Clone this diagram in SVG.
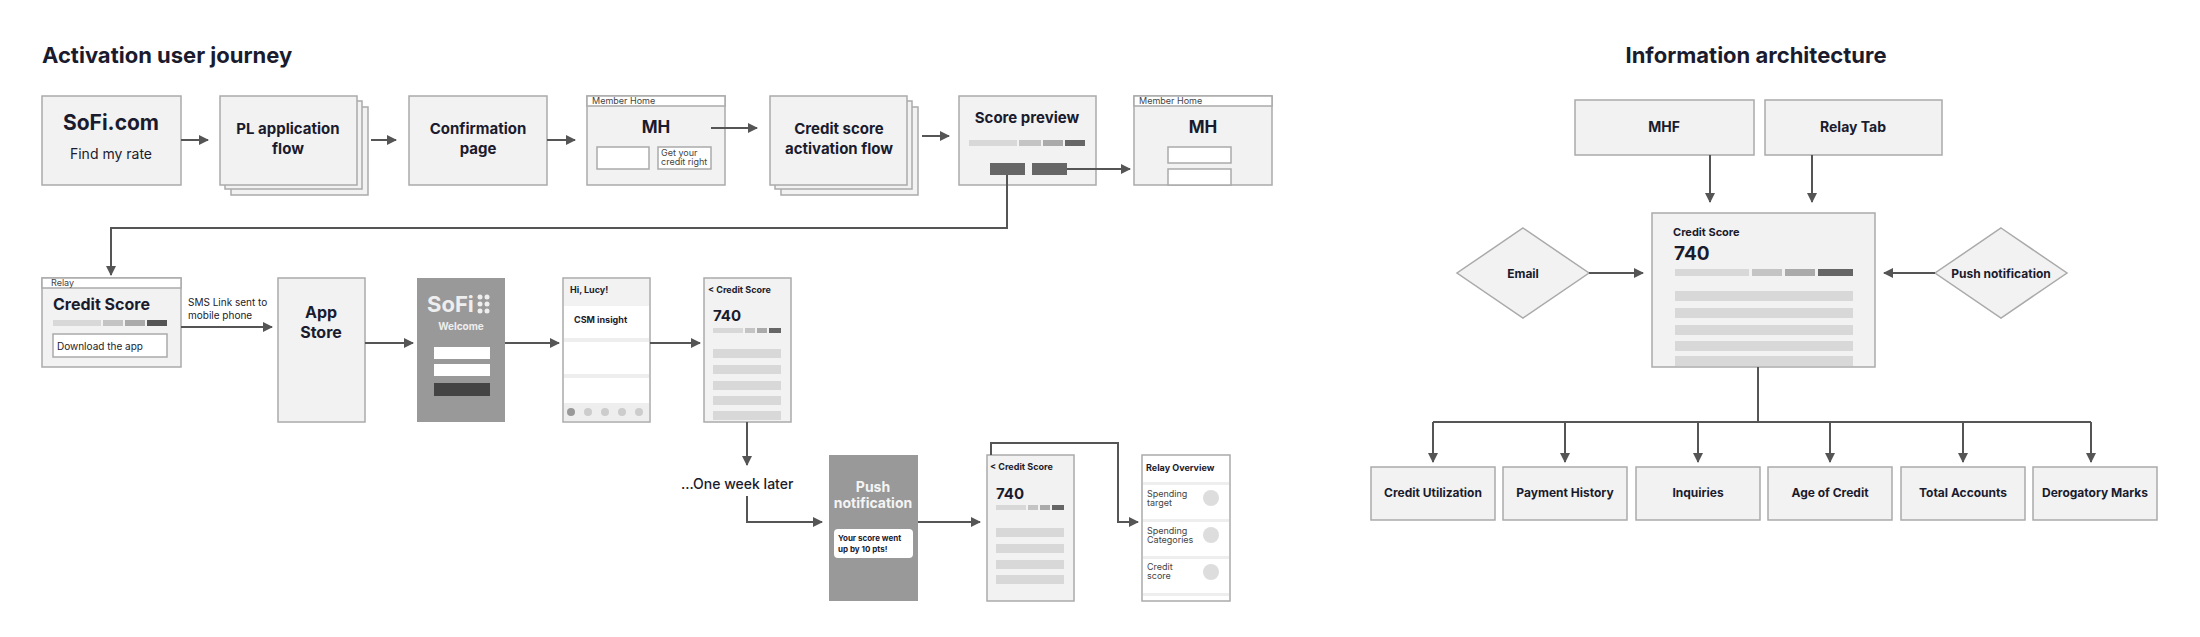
<svg xmlns="http://www.w3.org/2000/svg" width="2200" height="637" viewBox="0 0 2200 637">
<style>
text{font-family:Inter,"Noto Sans",sans-serif;fill:#1b1b2e}
.b{fill:#f2f2f2;stroke:#aaa;stroke-width:1.5}
.w{fill:#fff;stroke:#aaa;stroke-width:1.5}
.t{font-weight:700;text-anchor:middle}
.s{font-size:9px;fill:#444}
.c{fill:none;stroke:#555;stroke-width:2}
.bar{fill:#d8d8d8}
</style>
<defs><marker id="a" markerWidth="10" markerHeight="10" refX="9" refY="5" orient="auto" markerUnits="userSpaceOnUse"><path d="M0,0L10,5L0,10z" fill="#555"/></marker></defs>
<rect width="2200" height="637" fill="#fff"/>
<text x="42" y="63" font-size="22" font-weight="700">Activation user journey</text>
<text x="1756" y="63" font-size="22" font-weight="700" text-anchor="middle">Information architecture</text>

<g id="sofi"><rect class="b" x="42" y="96" width="139" height="89"/><text class="t" x="111" y="130" font-size="21">SoFi.com</text><text x="111" y="159" font-size="14" text-anchor="middle">Find my rate</text></g>
<g id="pl"><rect class="b" x="231" y="107" width="137" height="88"/><rect class="b" x="225" y="101" width="137" height="88"/><rect class="b" x="220" y="96" width="137" height="89"/><text class="t" x="288" y="134" font-size="15">PL application</text><text class="t" x="288" y="154" font-size="15">flow</text></g>
<g id="confirm"><rect class="b" x="409" y="96" width="138" height="89"/><text class="t" x="478" y="134" font-size="15">Confirmation</text><text class="t" x="478" y="154" font-size="15">page</text></g>
<g id="mh1"><rect class="b" x="587" y="96" width="138" height="89"/><rect class="w" x="587" y="96" width="138" height="10"/><text class="s" x="592" y="104" font-size="7">Member Home</text><text class="t" x="656" y="133" font-size="17">MH</text><rect class="w" x="597" y="147" width="52" height="22"/><rect class="w" x="658" y="147" width="53" height="22"/><text class="s" x="661" y="156" font-size="7">Get your</text><text class="s" x="661" y="165" font-size="7">credit right</text></g>
<g id="csaf"><rect class="b" x="781" y="107" width="137" height="88"/><rect class="b" x="775" y="101" width="137" height="88"/><rect class="b" x="770" y="96" width="137" height="89"/><text class="t" x="839" y="134" font-size="15">Credit score</text><text class="t" x="839" y="154" font-size="15">activation flow</text></g>
<g id="preview"><rect class="b" x="959" y="96" width="137" height="89"/><text class="t" x="1027" y="123" font-size="15">Score preview</text><rect class="bar" x="969" y="140" width="48" height="6"/><rect x="1019" y="140" width="22" height="6" fill="#c4c4c4"/><rect x="1043" y="140" width="20" height="6" fill="#aaa"/><rect x="1065" y="140" width="20" height="6" fill="#666"/><rect x="990" y="163" width="35" height="12" fill="#666"/><rect x="1032" y="163" width="35" height="12" fill="#666"/></g>
<g id="mh2"><rect class="b" x="1134" y="96" width="138" height="89"/><rect class="w" x="1134" y="96" width="138" height="10"/><text class="s" x="1139" y="104" font-size="7">Member Home</text><text class="t" x="1203" y="133" font-size="17">MH</text><rect class="w" x="1168" y="147" width="63" height="16"/><rect class="w" x="1168" y="169" width="63" height="16"/></g>

<g id="relay"><rect class="b" x="42" y="278" width="139" height="89"/><rect class="w" x="42" y="278" width="139" height="10"/><text class="s" x="51" y="286" font-size="7">Relay</text><text x="53" y="310" font-size="16" font-weight="700">Credit Score</text><rect class="bar" x="53" y="320" width="48" height="6"/><rect x="103" y="320" width="20" height="6" fill="#c4c4c4"/><rect x="125" y="320" width="20" height="6" fill="#aaa"/><rect x="147" y="320" width="20" height="6" fill="#555"/><rect class="w" x="53" y="334" width="114" height="23"/><text x="57" y="350" font-size="10">Download the app</text></g>
<text x="188" y="306" font-size="10">SMS Link sent to</text><text x="188" y="319" font-size="10">mobile phone</text>
<g id="appstore"><rect class="b" x="278" y="278" width="87" height="144"/><text class="t" x="321" y="318" font-size="16">App</text><text class="t" x="321" y="338" font-size="16">Store</text></g>
<g id="welcome"><rect x="417" y="278" width="88" height="144" fill="#999"/><text x="427" y="312" font-size="22" font-weight="700" style="fill:#eee">SoFi</text><g fill="#eee"><circle cx="480" cy="297" r="2.5"/><circle cx="487" cy="297" r="2.5"/><circle cx="480" cy="304" r="2.5"/><circle cx="487" cy="304" r="2.5"/><circle cx="480" cy="311" r="2.5"/><circle cx="487" cy="311" r="2.5"/></g><text x="461" y="330" font-size="10" font-weight="700" text-anchor="middle" style="fill:#eee">Welcome</text><rect x="434" y="347" width="56" height="12" fill="#fff"/><rect x="434" y="364" width="56" height="12" fill="#fff"/><rect x="434" y="383" width="56" height="13" fill="#444"/></g>
<g id="lucy"><rect class="w" x="563" y="278" width="87" height="144"/><rect x="564" y="279" width="85" height="27" fill="#f2f2f2"/><text x="570" y="293" font-size="9" font-weight="700">Hi, Lucy!</text><text x="574" y="323" font-size="9" font-weight="700">CSM insight</text><rect x="564" y="338" width="85" height="4" fill="#eee"/><rect x="564" y="374" width="85" height="4" fill="#eee"/><rect x="564" y="403" width="85" height="18" fill="#eee"/><g fill="#ccc"><circle cx="571" cy="412" r="4" fill="#999"/><circle cx="588" cy="412" r="4"/><circle cx="605" cy="412" r="4"/><circle cx="622" cy="412" r="4"/><circle cx="639" cy="412" r="4"/></g></g>
<g id="cs1"><rect class="b" x="704" y="278" width="87" height="144"/><text x="708" y="293" font-size="9" font-weight="700">&lt;  Credit Score</text><text x="713" y="321" font-size="15" font-weight="700">740</text><rect class="bar" x="713" y="328" width="30" height="5"/><rect x="745" y="328" width="10" height="5" fill="#c4c4c4"/><rect x="757" y="328" width="10" height="5" fill="#aaa"/><rect x="769" y="328" width="12" height="5" fill="#666"/><rect class="bar" x="713" y="349" width="68" height="9"/><rect class="bar" x="713" y="365" width="68" height="9"/><rect class="bar" x="713" y="381" width="68" height="9"/><rect class="bar" x="713" y="396" width="68" height="9"/><rect class="bar" x="713" y="411" width="68" height="9"/></g>
<text x="681" y="489" font-size="14" font-weight="500">...One week later</text>
<g id="push"><rect x="829" y="455" width="89" height="146" fill="#999"/><text class="t" x="873" y="492" font-size="14" style="fill:#f4f4f4">Push</text><text class="t" x="873" y="508" font-size="14" style="fill:#f4f4f4">notification</text><rect x="834" y="529" width="79" height="29" rx="4" fill="#fff"/><text x="838" y="541" font-size="8" font-weight="700">Your score went</text><text x="838" y="552" font-size="8" font-weight="700">up by 10 pts!</text></g>
<g id="cs2"><rect class="b" x="987" y="455" width="87" height="146"/><text x="990" y="470" font-size="9" font-weight="700">&lt;  Credit Score</text><text x="996" y="499" font-size="15" font-weight="700">740</text><rect class="bar" x="996" y="505" width="30" height="5"/><rect x="1028" y="505" width="10" height="5" fill="#c4c4c4"/><rect x="1040" y="505" width="10" height="5" fill="#aaa"/><rect x="1052" y="505" width="12" height="5" fill="#666"/><rect class="bar" x="996" y="528" width="68" height="9"/><rect class="bar" x="996" y="544" width="68" height="9"/><rect class="bar" x="996" y="560" width="68" height="9"/><rect class="bar" x="996" y="575" width="68" height="9"/></g>
<g id="overview"><rect class="w" x="1142" y="455" width="88" height="146"/><text x="1146" y="471" font-size="9" font-weight="700">Relay Overview</text><rect x="1143" y="482" width="86" height="3" fill="#eee"/><rect x="1143" y="519" width="86" height="3" fill="#eee"/><rect x="1143" y="556" width="86" height="3" fill="#eee"/><rect x="1143" y="593" width="86" height="3" fill="#eee"/><text class="s" x="1147" y="497" font-size="8">Spending</text><text class="s" x="1147" y="506" font-size="8">target</text><text class="s" x="1147" y="534" font-size="8">Spending</text><text class="s" x="1147" y="543" font-size="8">Categories</text><text class="s" x="1147" y="570" font-size="8">Credit</text><text class="s" x="1147" y="579" font-size="8">score</text><circle cx="1211" cy="498" r="8" fill="#ddd"/><circle cx="1211" cy="535" r="8" fill="#ddd"/><circle cx="1211" cy="572" r="8" fill="#ddd"/></g>

<g id="mhf"><rect class="b" x="1575" y="100" width="179" height="55"/><text class="t" x="1664" y="132" font-size="14">MHF</text></g>
<g id="relaytab"><rect class="b" x="1765" y="100" width="177" height="55"/><text class="t" x="1853" y="132" font-size="14">Relay Tab</text></g>
<g id="csbig"><rect class="b" x="1652" y="213" width="223" height="154"/><text x="1673" y="236" font-size="11" font-weight="700">Credit Score</text><text x="1674" y="260" font-size="19" font-weight="700">740</text><rect class="bar" x="1675" y="269" width="74" height="7"/><rect x="1752" y="269" width="30" height="7" fill="#c4c4c4"/><rect x="1785" y="269" width="30" height="7" fill="#aaa"/><rect x="1818" y="269" width="35" height="7" fill="#666"/><rect class="bar" x="1675" y="291" width="178" height="10"/><rect class="bar" x="1675" y="308" width="178" height="10"/><rect class="bar" x="1675" y="325" width="178" height="10"/><rect class="bar" x="1675" y="341" width="178" height="10"/><rect class="bar" x="1675" y="356" width="178" height="10"/></g>
<g id="email"><path class="b" d="M1523,228L1589,273L1523,318L1457,273z"/><text class="t" x="1523" y="278" font-size="12" font-weight="600">Email</text></g>
<g id="pushdia"><path class="b" d="M2001,228L2067,273L2001,318L1935,273z"/><text class="t" x="2001" y="278" font-size="12" font-weight="600">Push notification</text></g>
<g id="k1"><rect class="b" x="1371" y="467" width="124" height="53"/><text class="t" x="1433" y="497" font-size="12" font-weight="600">Credit Utilization</text></g>
<g id="k2"><rect class="b" x="1503" y="467" width="124" height="53"/><text class="t" x="1565" y="497" font-size="12" font-weight="600">Payment History</text></g>
<g id="k3"><rect class="b" x="1636" y="467" width="124" height="53"/><text class="t" x="1698" y="497" font-size="12" font-weight="600">Inquiries</text></g>
<g id="k4"><rect class="b" x="1768" y="467" width="124" height="53"/><text class="t" x="1830" y="497" font-size="12" font-weight="600">Age of Credit</text></g>
<g id="k5"><rect class="b" x="1901" y="467" width="124" height="53"/><text class="t" x="1963" y="497" font-size="12" font-weight="600">Total Accounts</text></g>
<g id="k6"><rect class="b" x="2033" y="467" width="124" height="53"/><text class="t" x="2095" y="497" font-size="12" font-weight="600">Derogatory Marks</text></g>

<g id="connectors" class="c" marker-end="url(#a)">
<path class="c" marker-end="url(#a)" d="M181,140H208"/>
<path class="c" marker-end="url(#a)" d="M371,140H396"/>
<path class="c" marker-end="url(#a)" d="M547,140H575"/>
<path class="c" marker-end="url(#a)" d="M711,128H757"/>
<path class="c" marker-end="url(#a)" d="M922,136H949"/>
<path class="c" marker-end="url(#a)" d="M1067,169H1130"/>
<path class="c" marker-end="url(#a)" d="M1007,175V228H111V275"/>
<path class="c" marker-end="url(#a)" d="M181,327H272"/>
<path class="c" marker-end="url(#a)" d="M365,343H413"/>
<path class="c" marker-end="url(#a)" d="M505,343H559"/>
<path class="c" marker-end="url(#a)" d="M650,343H700"/>
<path class="c" marker-end="url(#a)" d="M747,422V465"/>
<path class="c" marker-end="url(#a)" d="M747,496V522H822"/>
<path class="c" marker-end="url(#a)" d="M918,522H980"/>
<path class="c" marker-end="url(#a)" d="M991,455V443H1118V522H1138"/>
<path class="c" marker-end="url(#a)" d="M1710,155V202"/>
<path class="c" marker-end="url(#a)" d="M1812,155V202"/>
<path class="c" marker-end="url(#a)" d="M1589,273H1643"/>
<path class="c" marker-end="url(#a)" d="M1935,273H1884"/>
<path class="c" marker-end="none" d="M1758,367V422M1433,422H2091"/>
<path class="c" marker-end="url(#a)" d="M1433,422V462"/>
<path class="c" marker-end="url(#a)" d="M1565,422V462"/>
<path class="c" marker-end="url(#a)" d="M1698,422V462"/>
<path class="c" marker-end="url(#a)" d="M1830,422V462"/>
<path class="c" marker-end="url(#a)" d="M1963,422V462"/>
<path class="c" marker-end="url(#a)" d="M2091,422V462"/>
</g>
</svg>
